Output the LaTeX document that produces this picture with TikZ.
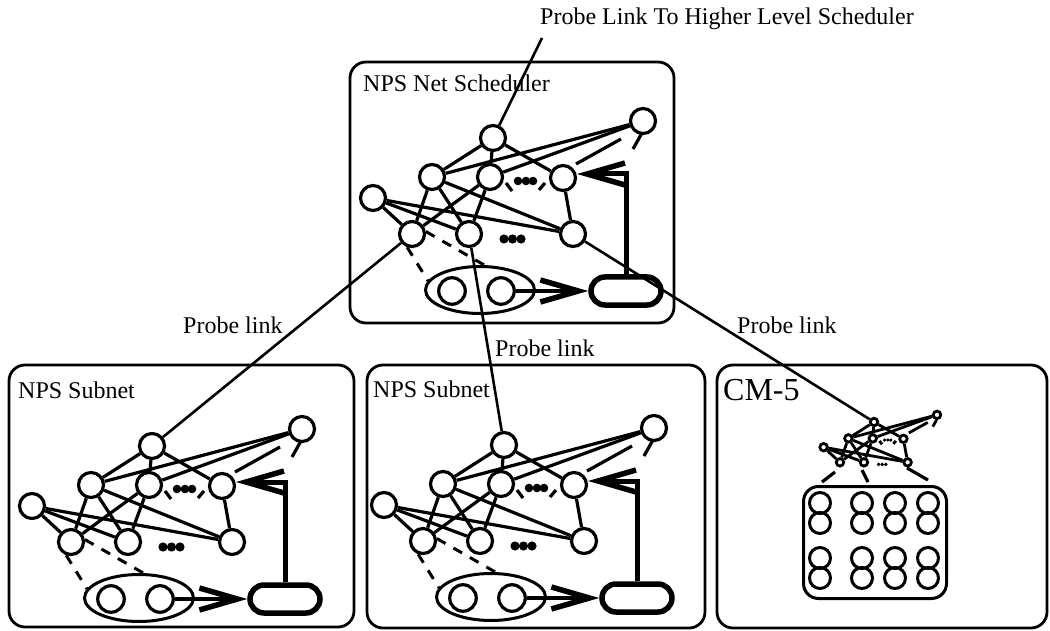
\documentclass[tikz,border=0pt]{standalone}
\usepackage{fontspec}
\setmainfont{Liberation Serif}
\usetikzlibrary{arrows.meta,calc,shapes.geometric}

\tikzset{
  gnode/.style={circle, draw, fill=white, line width=3.2pt, minimum size=25pt, inner sep=0pt},
  qnode/.style={gnode, minimum size=26.5pt},
  edge/.style={line width=3.2pt},
  box/.style={line width=2.8pt, rounded corners=16pt},
  probe/.style={line width=2.6pt},
  lbl/.style={font=\fontsize{24}{28}\selectfont, inner sep=0pt, anchor=base west},
  biglbl/.style={font=\fontsize{32}{36}\selectfont, inner sep=0pt, anchor=base west},
  qell/.style={ellipse, draw, line width=3pt, minimum width=109pt, minimum height=47pt, inner sep=0pt},
  qrect/.style={draw, line width=5.5pt, rounded corners=14pt, minimum width=70pt, minimum height=28pt, inner sep=0pt},
  bigbarb/.style={-{Straight Barb[length=38pt,width=22pt,line width=5.5pt]}},
  fb/.style={line width=5pt},
  dashline/.style={line width=3pt, dash pattern=on 10pt off 9pt},
  pe/.style={circle, draw, line width=3pt, minimum size=21pt, inner sep=0pt},
}

% nodes, links, elided links and ellipsis dots of one scheduler network
\newcommand\netgraph[1]{%
  \node[gnode] (#1A) at (0,0) {};
  \node[gnode] (#1B) at (-61,39) {};
  \node[gnode] (#1C) at (-3,39) {};
  \node[gnode] (#1D) at (70,40) {};
  \node[gnode] (#1E) at (150,-17) {};
  \node[gnode] (#1F) at (-120,60) {};
  \node[gnode] (#1G) at (-81,96) {};
  \node[gnode] (#1H) at (-24,96) {};
  \node[gnode] (#1I) at (80,96) {};
  \foreach \u/\v in {A/B,A/C,A/D,E/B,E/C,D/I,F/I,F/H,F/G,B/G,B/H,B/I,C/G,C/H}
    \draw[edge] (#1\u) -- (#1\v);
  \draw[edge] (83,26) -- (128,1);
  \draw[edge] (149,-5) -- (140,11);
  \draw[edge] (13,45) -- (19,53);
  \draw[edge] (46,52) -- (52,45);
  \foreach \x in {25,33,40} \fill (\x,43) circle[radius=4.3];
  \foreach \x in {11,19.5,28} \fill (\x,101) circle[radius=4.6];
}

% job queue, dispatcher and feedback loop of one scheduler
\newcommand\netqueue[1]{%
  \node[qell] (#1Q) at (-13,152) {};
  \node[qnode] (#1Q1) at (-41,153) {};
  \node[qnode] (#1Q2) at (8,153) {};
  \node[qrect] (#1R) at (133,153) {};
  \draw[edge, bigbarb] (#1Q2) -- (#1R);
  \draw[fb, bigbarb] (#1R.north) |- ($(#1D.east)+(0,-4)$);
  \draw[dashline] (#1G.250) -- (#1Q.170);
  \draw[dashline] (#1G.10) -- (#1Q.80);
}

\begin{document}
\begin{tikzpicture}[x=1pt,y=-1pt]
\useasboundingbox (0,0) rectangle (1050,631);
\fill[white] (0,0) rectangle (1050,631);

% frames
\draw[box] (350,62) rectangle (674,323);
\draw[box] (9,365) rectangle (354,627);
\draw[box] (367,365) rectangle (705,628);
\draw[box] (717,365) rectangle (1047,628);

% frame titles
\node[lbl] (tsched) at (363,92) {NPS Net Scheduler};
\node[lbl] (tsub1) at (18,398) {NPS Subnet};
\node[lbl] (tsub2) at (373,397) {NPS Subnet};
\node[biglbl] (tcm) at (723,400) {CM-5};

% networks
\begin{scope}[shift={(493,138)}]
  \netgraph{s}
  \netqueue{s}
\end{scope}
\begin{scope}[shift={(152,446)}]
  \netgraph{a}
  \netqueue{a}
\end{scope}
\begin{scope}[shift={(504,445)}]
  \netgraph{b}
  \netqueue{b}
\end{scope}
\begin{scope}[shift={(874,422)}, scale=0.42,
    gnode/.append style={minimum size=7.5pt, line width=2.8pt},
    edge/.append style={line width=2.8pt}]
  \netgraph{m}
\end{scope}

% CM-5 processing nodes
\node[draw, line width=3pt, rounded corners=15pt, minimum width=143pt,
      minimum height=112pt, inner sep=0pt] (grid) at (875,542.5) {};
\foreach \c/\x in {1/820,2/862,3/895,4/928}
  \foreach \r/\y in {1/503,2/523,3/558,4/578}
    \node[pe] (p\c\r) at (\x,\y) {};
\draw[edge] (822,482) -- (835,472);
\draw[edge] (868,482) -- (862,470);
\draw[edge] (928,480) -- (907,468);

% probe links
\coordinate (up) at (542,38);
\draw[probe] (up) -- (sA);
\draw[probe] (sG) -- (aA);
\draw[probe] (sH) -- (bA);
\draw[probe] (sI) -- (mA);

\node[lbl] (tup) at (540,25) {Probe Link To Higher Level Scheduler};
\node[lbl] (tp1) at (183,333) {Probe link};
\node[lbl] (tp2) at (495,356) {Probe link};
\node[lbl] (tp3) at (737,333) {Probe link};
\end{tikzpicture}
\end{document}
